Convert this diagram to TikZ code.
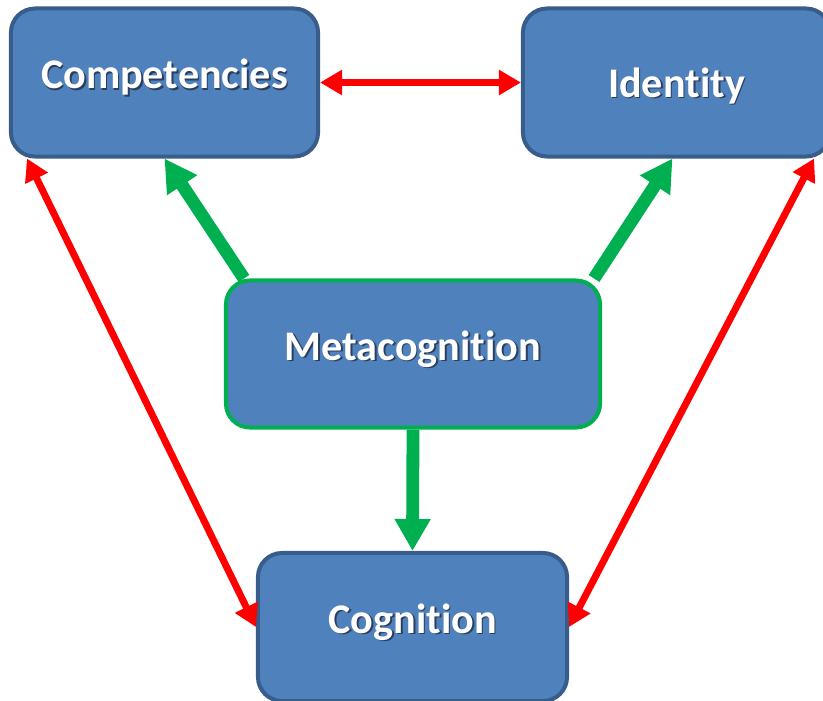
\documentclass[tikz,border=0pt]{standalone}
\usepackage{fontspec}
\newfontfamily\boxfont[Ligatures=NoCommon]{Carlito}
\usetikzlibrary{arrows.meta}

\definecolor{boxfill}{HTML}{4F81BD}
\definecolor{boxline}{HTML}{385D8A}
\definecolor{metaline}{HTML}{00B050}
\definecolor{linkred}{HTML}{FF0000}
\definecolor{txtshadow}{HTML}{2B3F5C}

\newcommand{\shtext}[1]{\makebox[0pt][l]{\hspace{1.2pt}\raisebox{-1.2pt}{\textcolor{txtshadow}{#1}}}#1}

\tikzset{
  bluebox/.style={draw=boxline, fill=boxfill, line width=0.1cm, rounded corners=0.6cm,
    minimum width=7.675cm, minimum height=3.7cm, text=white,
    font=\boxfont\bfseries\fontsize{30}{35}\selectfont, text height=0.5cm, text depth=0.2cm},
  metabox/.style={bluebox, draw=metaline, minimum width=9.35cm, minimum height=3.675cm},
  redlink/.style={{Triangle[length=0.55cm,width=0.6cm]}-{Triangle[length=0.55cm,width=0.6cm]},
    draw=linkred, line width=0.175cm},
  greenlink/.style={-{Triangle[length=0.8cm,width=0.85cm]}, draw=metaline, line width=0.32cm},
}

\begin{document}
\begin{tikzpicture}[x=0.025cm,y=-0.025cm]
\useasboundingbox (0,0) rectangle (823,700);
\clip (0,0) rectangle (823,700);

% the four boxes
\node (comp) at (164.5,82.5)[bluebox]{\shtext{Competencies}};
\node (ident) at (676.5,82.5)[bluebox,text height=0.9cm,text depth=0.175cm]{\shtext{Identity}};
\node (meta) at (413,354)[metabox]{\shtext{Metacognition}};
\node (cog) at (412.5,627)[bluebox,minimum width=7.725cm]{\shtext{Cognition}};

% red links
\draw[redlink](comp.east) -- (ident.west);
\draw[redlink]([xshift=0.45cm]comp.south west) -- (cog.west);
\draw[redlink]([xshift=-0.45cm]ident.south east) -- (cog.east);

% green links out of metacognition
\draw[greenlink]([xshift=0.5cm]meta.north west) -- (comp.south);
\draw[greenlink]([xshift=-0.2cm]meta.north east) -- ([xshift=-0.1cm]ident.south);
\draw[greenlink](meta.south) -- (cog.north);

\end{tikzpicture}
\end{document}
